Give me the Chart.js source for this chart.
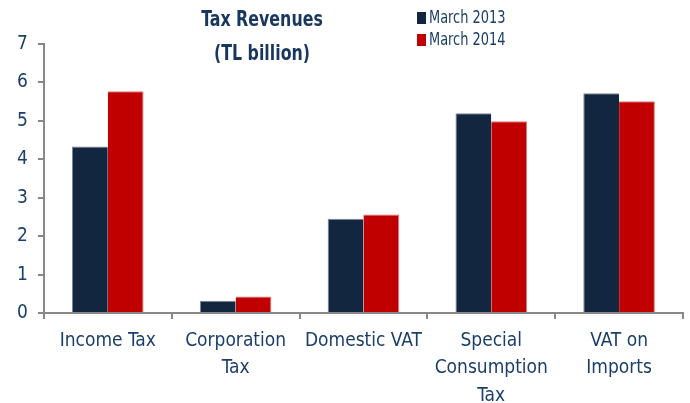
<!DOCTYPE html>
<html>
<head>
<meta charset="utf-8">
<script src="https://cdn.jsdelivr.net/npm/chart.js@4"></script>
<style>
  html, body { margin: 0; padding: 0; background: #fff; }
  #wrap { width: 690px; height: 403px; }
</style>
</head>
<body>
<div id="wrap"><canvas id="taxChart" width="690" height="403"></canvas></div>
<script>
// chart data
const categories = [['Income Tax'], ['Corporation', 'Tax'], ['Domestic VAT'], ['Special', 'Consumption', 'Tax'], ['VAT on', 'Imports']];
const march2013 = [4.33, 0.32, 2.45, 5.20, 5.72];
const march2014 = [5.77, 0.43, 2.56, 4.99, 5.51];
const yTicks = [0, 1, 2, 3, 4, 5, 6, 7];
const titleLines = ['Tax Revenues', '(TL billion)'];
const seriesNames = ['March 2013', 'March 2014'];

const navy = '#12263f';
const red = '#c00000';
const textBlue = '#1b3f6b';
const fontName = "'Liberation Sans Narrow', 'DejaVu Sans Condensed', sans-serif";

// draw text squeezed horizontally, the original font is narrow
function narrowText(ctx, text, x, y, squeeze) {
    ctx.save();
    ctx.translate(x, y);
    ctx.scale(squeeze, 1);
    ctx.fillText(text, 0, 0);
    ctx.restore();
}

// title + legend drawn by hand to match placement
const headerPlugin = {
    id: 'header',
    afterDraw(chart) {
        const ctx = chart.ctx;
        ctx.save();
        ctx.fillStyle = '#17375e';
        ctx.font = "bold 22px " + fontName;
        ctx.textAlign = 'center';
        ctx.textBaseline = 'middle';
        narrowText(ctx, titleLines[0], 262, 20, 0.8);
        narrowText(ctx, titleLines[1], 262, 54, 0.8);

        const colors = [navy, red];
        ctx.font = "18px " + fontName;
        ctx.textAlign = 'left';
        seriesNames.forEach((name, i) => {
            const y = 18 + i * 22;
            ctx.fillStyle = colors[i];
            ctx.fillRect(417, y - 6, 9, 12);
            ctx.fillStyle = textBlue;
            narrowText(ctx, name, 429, y, 0.8);
        });
        ctx.restore();
    }
};

const ctx = document.getElementById('taxChart').getContext('2d');
new Chart(ctx, {
    type: 'bar',
    data: {
        labels: categories,
        datasets: [
            { label: seriesNames[0], data: march2013, backgroundColor: navy, borderColor: '#7d8797', borderWidth: { top: 1, left: 1, right: 0, bottom: 0 } },
            { label: seriesNames[1], data: march2014, backgroundColor: red, borderColor: '#e07a7a', borderWidth: { top: 1, left: 0, right: 1, bottom: 0 } }
        ]
    },
    options: {
        responsive: false,
        animation: false,
        layout: { padding: { top: 44, right: 7, left: 7, bottom: 0 } },
        datasets: { bar: { categoryPercentage: 0.56, barPercentage: 1.0 } },
        plugins: {
            legend: { display: false },
            title: { display: false },
            tooltip: { enabled: false }
        },
        scales: {
            x: {
                afterFit(scale) { scale.height = 90; },
                grid: { offset: true, drawOnChartArea: false, color: '#888', tickLength: 6, lineWidth: 2 },
                border: { color: '#888', width: 2 },
                ticks: { color: textBlue, font: { family: fontName, size: 19, lineHeight: 1.45 }, padding: 8, maxRotation: 0, autoSkip: false }
            },
            y: {
                min: 0,
                max: 7,
                afterBuildTicks(axis) { axis.ticks = yTicks.map(v => ({ value: v })); },
                grid: { drawOnChartArea: false, color: '#888', tickLength: 6, lineWidth: 2 },
                border: { color: '#888', width: 2 },
                ticks: { color: textBlue, font: { family: fontName, size: 19 }, padding: 10 }
            }
        }
    },
    plugins: [headerPlugin]
});
</script>
</body>
</html>
